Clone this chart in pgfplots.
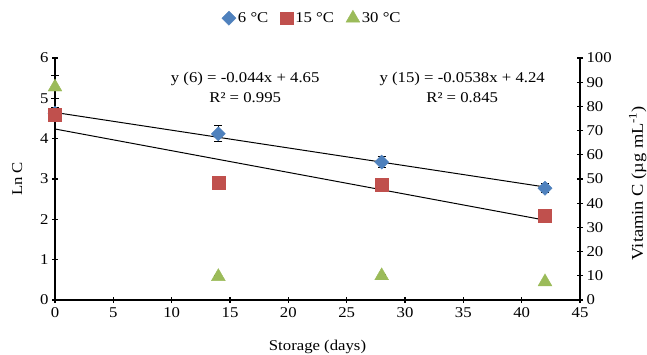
\documentclass[border=0pt]{standalone}
\usepackage{fontspec}
\setmainfont[FakeStretch=1.12]{Liberation Serif}
\usepackage{pgfplots}
\pgfplotsset{compat=1.18}
\definecolor{cblue}{HTML}{4F81BD}
\definecolor{cred}{HTML}{C0504D}
\definecolor{cgreen}{HTML}{9BBB59}
\begin{document}
\begin{tikzpicture}[font=\fontsize{15}{17}\selectfont]
\begin{axis}[
  at={(0,0)}, anchor=south west,
  scale only axis, width=525bp, height=242bp,
  xmin=0, xmax=45, ymin=0, ymax=6,
  xtick={0,5,...,45}, ytick={0,1,...,6},
  axis x line*=bottom, axis y line*=left,
  axis line style={line width=1.5pt, -},
  tick style={line width=1.3pt, black},
  major tick length=6pt, tick align=center,
  /pgf/number format/assume math mode=true,
  xticklabel style={yshift=-1pt},
  xlabel={Storage (days)}, ylabel={Ln C},
  xlabel style={at={(axis description cs:0.5,-0.194)}, anchor=center},
  ylabel style={at={(axis description cs:-0.072,0.5)}, anchor=center},
  legend style={draw=none, at={(0.49,1.165)}, anchor=center, legend columns=3, font=\fontsize{15}{17}\selectfont, inner sep=0pt, /tikz/every even column/.append style={column sep=10pt}},
  legend image code/.code={\draw[#1] plot coordinates {(0.15cm,0cm)};},
  clip=false,
]
\addplot[only marks, mark=square*, mark size=5pt, mark options={rotate=45}, color=cblue,
  error bars/.cd, y dir=both, y explicit, error bar style={black, line width=1pt}, error mark options={black, line width=1pt, mark size=4pt, rotate=90}]
  coordinates {(0,4.63) +- (0,0.15) (14,4.12) +- (0,0.2) (28,3.42) +- (0,0.13) (42,2.77) +- (0,0.11)};
\addlegendentry{6 °C}
\addplot[only marks, mark=square*, mark size=6.5pt, color=cred]
  coordinates {(0,4.6) (14,2.9) (28,2.87) (42,2.1)};
\addlegendentry{15 °C}
\addplot[only marks, mark=triangle*, mark size=8pt, color=cgreen,
  error bars/.cd, y dir=both, y explicit, error bar style={black, line width=1pt}, error mark options={black, line width=1pt, mark size=4pt, rotate=90}]
  coordinates {(0,5.28) +- (0,0.28) (14,0.58) +- (0,0.02) (28,0.6) +- (0,0.02) (42,0.45) +- (0,0.02)};
\addlegendentry{30 °C}
\addplot[black, line width=1pt, forget plot] coordinates {(0,4.65) (42,2.802)};
\addplot[black, line width=1pt, forget plot] coordinates {(0,4.24) (42,1.98)};
\node[align=center, font=\fontsize{15}{21}\selectfont] at (axis cs:16.3,5.27) {y (6) = -0.044x + 4.65\\R² = 0.995};
\node[align=center, font=\fontsize{15}{21}\selectfont] at (axis cs:34.9,5.27) {y (15) = -0.0538x + 4.24\\R² = 0.845};
\end{axis}
\begin{axis}[
  at={(0,0)}, anchor=south west,
  scale only axis, width=525bp, height=242bp,
  xmin=0, xmax=45, ymin=0, ymax=100,
  ytick={0,10,...,100},
  axis x line=none, axis y line*=right,
  axis line style={line width=1.5pt, -},
  tick style={line width=1.3pt, black},
  major tick length=6pt, tick align=center,
  /pgf/number format/assume math mode=true,
  ylabel={Vitamin C (µg mL\textsuperscript{-1})},
  ylabel style={at={(axis description cs:1.11,0.483)}, anchor=center, font=\fontsize{16.5}{18}\selectfont},
]
\end{axis}
\pgfresetboundingbox
\path[use as bounding box] (-55bp,-55bp) rectangle (592bp,300bp);
\end{tikzpicture}
\end{document}
